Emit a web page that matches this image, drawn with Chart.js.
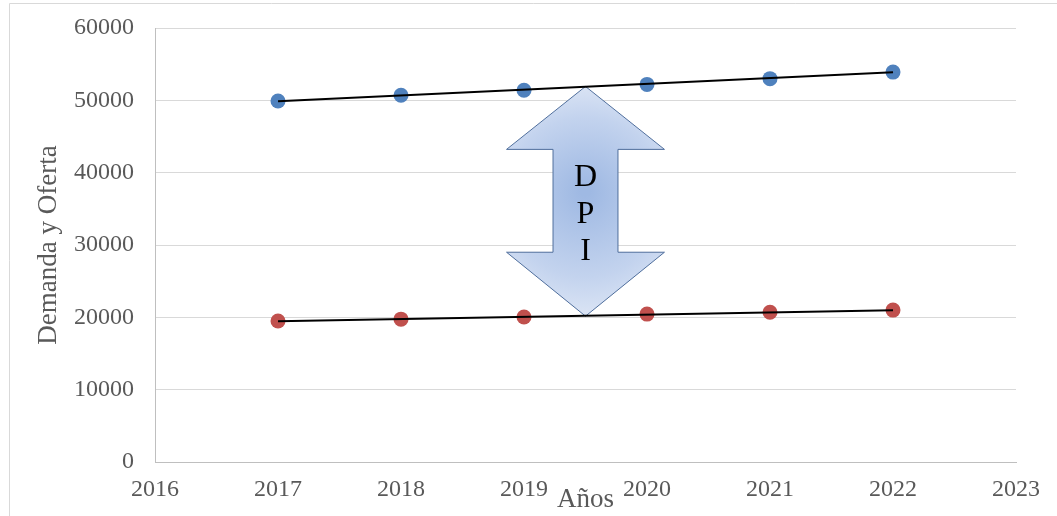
<!DOCTYPE html>
<html>
<head>
<meta charset="utf-8">
<script src="https://cdn.jsdelivr.net/npm/chart.js@4.4.1/dist/chart.umd.min.js"></script>
<style>
    html, body { margin:0; padding:0; background:#fff; }
    #wrap { position:relative; width:1057px; height:516px; }
</style>
</head>
<body>
<div id="wrap"><canvas id="chart" width="1057" height="516"></canvas></div>
<script>
// values
const years      = [2017, 2018, 2019, 2020, 2021, 2022];
const demanda    = [49900, 50700, 51400, 52200, 53000, 53900];
const oferta     = [19500, 19750, 20050, 20450, 20700, 21000];
const trendYears = [2017, 2022];
const trendDem   = [49870, 53880];
const trendOfe   = [19450, 20990];
const yTicks     = [0, 10000, 20000, 30000, 40000, 50000, 60000];
const xTicks     = [2016, 2017, 2018, 2019, 2020, 2021, 2022, 2023];

const serif = "'Liberation Serif', 'Times New Roman', serif";
const grey  = '#595959';

const pts = (xs, ys) => xs.map((x, i) => ({ x, y: ys[i] }));

// double arrow "DPI" between the two series, in data units
const arrow = { x: 2019.5, top: 51920, bottom: 20160, shTop: 43220, shBot: 29000, outer: 0.642, shaft: 0.264 };

const decor = {
    id: 'decor',
    beforeDraw(chart) {
        const c = chart.ctx;
        c.save();
        c.strokeStyle = '#d9d9d9';
        c.lineWidth = 1;
        c.beginPath();
        c.moveTo(9.5, 600); c.lineTo(9.5, 3.5); c.lineTo(1100, 3.5);
        c.stroke();
        c.restore();
    },
    beforeDatasetsDraw(chart) {
        const { ctx: c, scales: { x, y } } = chart;
        const cx = x.getPixelForValue(arrow.x);
        const ol = x.getPixelForValue(arrow.x - arrow.outer), or = x.getPixelForValue(arrow.x + arrow.outer);
        const sl = x.getPixelForValue(arrow.x - arrow.shaft), sr = x.getPixelForValue(arrow.x + arrow.shaft);
        const t = y.getPixelForValue(arrow.top), b = y.getPixelForValue(arrow.bottom);
        const st = y.getPixelForValue(arrow.shTop), sb = y.getPixelForValue(arrow.shBot);
        c.save();
        c.beginPath();
        c.moveTo(cx, t);
        c.lineTo(or, st); c.lineTo(sr, st); c.lineTo(sr, sb); c.lineTo(or, sb);
        c.lineTo(cx, b);
        c.lineTo(ol, sb); c.lineTo(sl, sb); c.lineTo(sl, st); c.lineTo(ol, st);
        c.closePath();
        const my = (t + b) / 2;
        const g = c.createRadialGradient(cx, my - 10, 5, cx, my, 130);
        g.addColorStop(0, '#9fb9e3');
        g.addColorStop(0.6, '#c3d3ee');
        g.addColorStop(1, '#e4ebf7');
        c.fillStyle = g;
        c.fill();
        c.strokeStyle = '#4f6e9c';
        c.lineWidth = 1;
        c.stroke();
        c.fillStyle = '#000';
        c.font = '32px ' + serif;
        c.textAlign = 'center';
        c.textBaseline = 'middle';
        ['D', 'P', 'I'].forEach((ch, i) => c.fillText(ch, cx, 178 + i * 37));
        c.restore();
    }
};

new Chart(document.getElementById('chart'), {
    type: 'scatter',
    data: {
        datasets: [
            { label: 'Demanda', data: pts(years, demanda), backgroundColor: '#4f81bd', pointRadius: 7.5, borderWidth: 0, order: 2 },
            { label: 'Oferta',  data: pts(years, oferta),  backgroundColor: '#c0504d', pointRadius: 7.5, borderWidth: 0, order: 2 },
            { data: pts(trendYears, trendDem), showLine: true, borderColor: '#000', borderWidth: 2, pointRadius: 0, order: 1 },
            { data: pts(trendYears, trendOfe), showLine: true, borderColor: '#000', borderWidth: 2, pointRadius: 0, order: 1 },
        ]
    },
    options: {
        responsive: false, animation: false,
        layout: { padding: { top: 28, right: 41, left: 0, bottom: 0 } },
        plugins: { legend: { display: false }, tooltip: { enabled: false } },
        scales: {
            x: {
                type: 'linear', min: xTicks[0], max: xTicks[xTicks.length - 1],
                afterBuildTicks: s => { s.ticks = xTicks.map(v => ({ value: v })); },
                afterFit: s => { s.height = 54; s.paddingLeft = 0; s.paddingRight = 0; },
                ticks: { color: grey, font: { family: serif, size: 24 }, padding: 13, callback: v => String(v) },
                grid: { display: false, drawTicks: false },
                border: { color: '#bfbfbf', width: 1 },
                title: { display: true, text: 'Años', color: grey, font: { family: serif, size: 27 }, padding: { top: 0, bottom: 0 } }
            },
            y: {
                min: yTicks[0], max: yTicks[yTicks.length - 1],
                afterBuildTicks: s => { s.ticks = yTicks.map(v => ({ value: v })); },
                afterFit: s => { s.width = 155; s.paddingTop = 0; s.paddingBottom = 0; },
                ticks: { color: grey, font: { family: serif, size: 24 }, padding: 21, callback: v => String(v) },
                grid: { color: '#d9d9d9', drawTicks: false },
                border: { color: '#bfbfbf', width: 1 },
                title: { display: true, text: 'Demanda y Oferta', color: grey, font: { family: serif, size: 27 }, padding: { top: 33, bottom: 0 } }
            }
        }
    },
    plugins: [decor]
});
</script>
</body>
</html>
